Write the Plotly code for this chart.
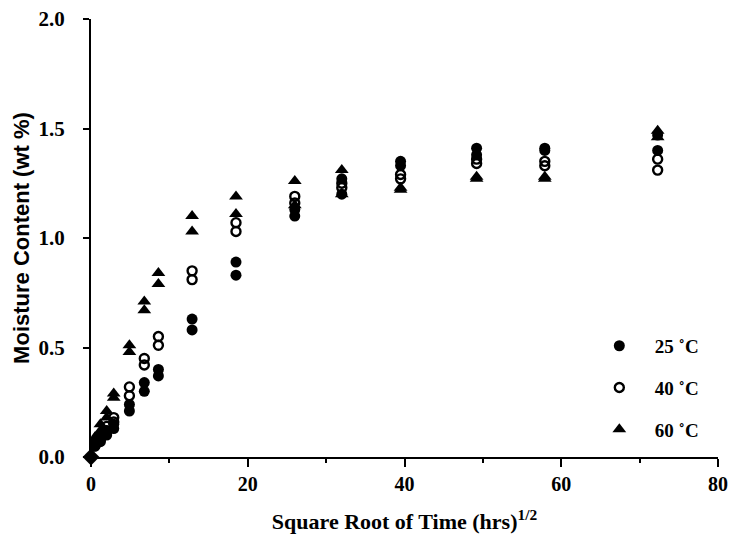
import plotly.graph_objects as go

# sqrt(time) sampling points (two replicates each)
x_points = [0.5, 1.2, 2.0, 2.9, 4.9, 6.8, 8.6, 12.9, 18.5, 26.0, 32.0, 39.5, 49.2, 57.9, 72.3]

mc_25_a = [0.06, 0.07, 0.10, 0.13, 0.24, 0.34, 0.40, 0.63, 0.89, 1.13, 1.27, 1.35, 1.41, 1.41, 1.47]
mc_25_b = [0.05, 0.09, 0.12, 0.15, 0.21, 0.30, 0.37, 0.58, 0.83, 1.10, 1.20, 1.33, 1.38, 1.40, 1.40]

mc_40_a = [0.05, 0.08, 0.14, 0.18, 0.32, 0.45, 0.55, 0.85, 1.07, 1.19, 1.25, 1.29, 1.34, 1.35, 1.36]
mc_40_b = [0.06, 0.10, 0.12, 0.16, 0.28, 0.42, 0.51, 0.81, 1.03, 1.16, 1.23, 1.27, 1.36, 1.33, 1.31]

mc_60_a = [0.09, 0.15, 0.21, 0.29, 0.51, 0.71, 0.84, 1.10, 1.19, 1.26, 1.31, 1.23, 1.28, 1.28, 1.49]
mc_60_b = [0.08, 0.12, 0.18, 0.27, 0.48, 0.67, 0.79, 1.03, 1.11, 1.15, 1.20, 1.22, 1.27, 1.27, 1.46]

origin_x = [0]
origin_y = [0]

labels = ["25 ˚C", "40 ˚C", "60 ˚C"]

serif = "Liberation Serif"
sans = "Liberation Sans"

fig = go.Figure()

fig.add_trace(go.Scatter(
    x=x_points + x_points, y=mc_25_a + mc_25_b, mode="markers", name=labels[0],
    legendgroup="a",
    marker=dict(symbol="circle", size=11, color="black", line=dict(width=0)),
))
fig.add_trace(go.Scatter(
    x=x_points + x_points, y=mc_40_a + mc_40_b, mode="markers", name=labels[1],
    legendgroup="b",
    marker=dict(symbol="circle-open", size=9, color="black", line=dict(width=2.4, color="black")),
))
fig.add_trace(go.Scatter(
    x=x_points + x_points, y=mc_60_a + mc_60_b, mode="markers", name=labels[2],
    legendgroup="c",
    marker=dict(symbol="triangle-up", size=12, color="black", line=dict(width=0)),
))
fig.add_trace(go.Scatter(
    x=origin_x, y=origin_y, mode="markers", showlegend=False,
    marker=dict(symbol="diamond", size=13, color="black"),
    cliponaxis=False,
))

fig.update_layout(
    width=735, height=542,
    margin=dict(l=91, r=17, t=19, b=85, autoexpand=False),
    paper_bgcolor="white", plot_bgcolor="white",
    font=dict(family=serif, size=16, color="black"),
    showlegend=True,
    legend=dict(
        x=0.786, y=0.297, xanchor="left", yanchor="top",
        bgcolor="rgba(0,0,0,0)",
        font=dict(family=serif, size=19, color="black", weight="bold"),
        tracegroupgap=14,
        itemwidth=61,
    ),
    xaxis=dict(
        range=[0, 80], tickvals=[0, 20, 40, 60, 80],
        ticks="outside", ticklen=8, tickwidth=2, tickcolor="black",
        showline=True, linewidth=2, linecolor="black", mirror=False,
        showgrid=False, zeroline=False, automargin=False,
        tickfont=dict(family=serif, size=20, weight="bold"),
        minor=dict(dtick=10, ticks="outside", ticklen=4, tickwidth=1.5, tickcolor="black", showgrid=False),
        title=dict(text="Square Root of Time (hrs)<sup>1/2</sup>",
                   font=dict(family=serif, size=22, weight="bold"), standoff=20),
    ),
    yaxis=dict(
        range=[0, 2.0], tickvals=[0, 0.5, 1.0, 1.5, 2.0], ticktext=["0.0", "0.5", "1.0", "1.5", "2.0"],
        ticks="outside", ticklen=6, tickwidth=2, tickcolor="black",
        showline=True, linewidth=2, linecolor="black",
        showgrid=False, zeroline=False, automargin=False,
        ticklabelstandoff=14,
        tickfont=dict(family=serif, size=21, weight="bold"),
        title=dict(text="Moisture Content (wt %)",
                   font=dict(family=sans, size=22, weight="bold"), standoff=3),
    ),
)

fig.write_html("out.html")
